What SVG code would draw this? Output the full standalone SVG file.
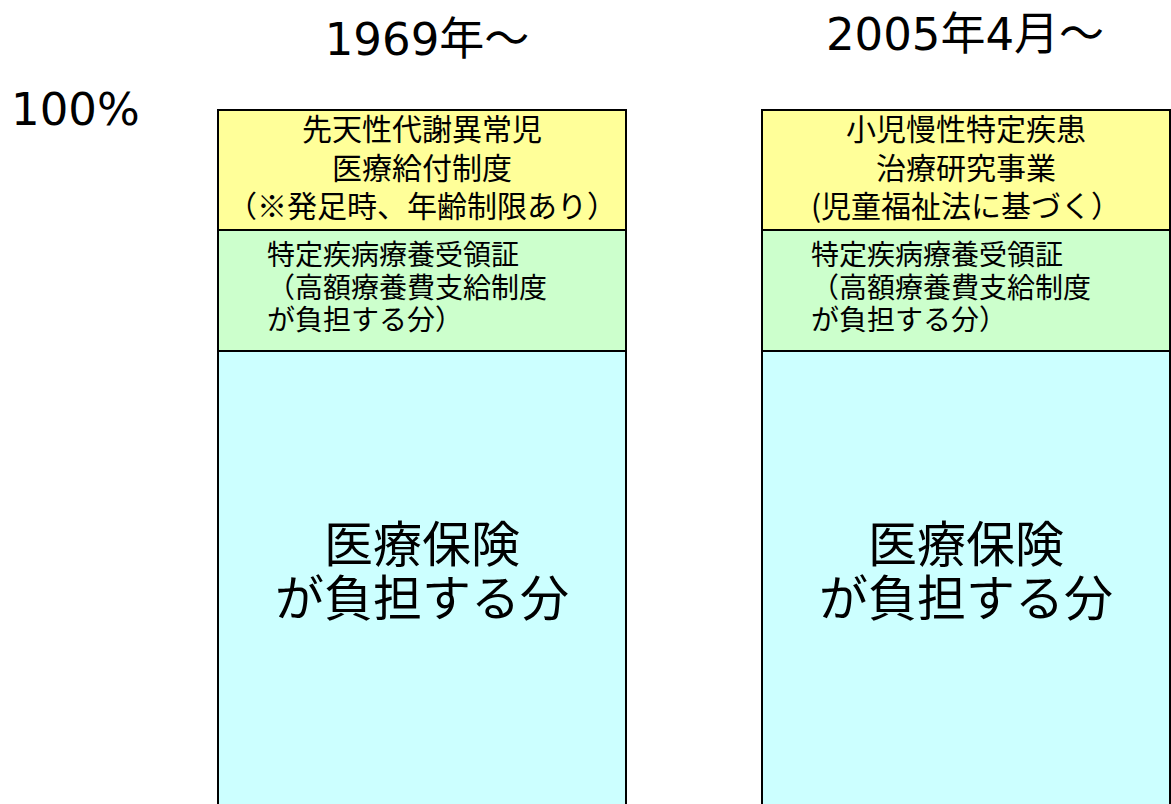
<svg xmlns="http://www.w3.org/2000/svg" width="1171" height="804" viewBox="0 0 1171 804">
<style>
text{font-family:"Noto Sans CJK JP","Noto Sans",sans-serif;fill:#000}
.y{fill:#FFFF99;stroke:#000;stroke-width:2}
.g{fill:#CCFFCC;stroke:#000;stroke-width:2}
.c{fill:#CCFFFF;stroke:#000;stroke-width:2}
.t{font-size:30px;text-anchor:middle}
.s{font-size:28px}
.b{font-size:49px;text-anchor:middle}
.h{font-family:"DejaVu Sans","Noto Sans CJK JP",sans-serif;font-size:45px}
</style>
<rect width="1171" height="804" fill="#fff"/>
<g id="labels">
<text class="h" x="427" y="55" text-anchor="middle">1969年～</text>
<text class="h" x="965" y="50" text-anchor="middle">2005年4月～</text>
<text class="h" x="11" y="125">100%</text>
</g>
<g id="col1">
<rect class="c" x="218" y="351" width="408" height="470"/>
<rect class="g" x="218" y="230" width="408" height="121"/>
<rect class="y" x="218" y="110" width="408" height="120"/>
<text class="t" x="422" y="140">先天性代謝異常児</text>
<text class="t" x="422" y="179">医療給付制度</text>
<text class="t" x="422" y="217">（※発足時、年齢制限あり）</text>
<text class="s" x="267" y="265">特定疾病療養受領証</text>
<text class="s" x="267" y="298">（高額療養費支給制度</text>
<text class="s" x="267" y="330">が負担する分）</text>
<text class="b" x="422" y="562">医療保険</text>
<text class="b" x="422" y="616">が負担する分</text>
</g>
<g id="col2">
<rect class="c" x="762" y="351" width="408" height="470"/>
<rect class="g" x="762" y="230" width="408" height="121"/>
<rect class="y" x="762" y="110" width="408" height="120"/>
<text class="t" x="966" y="140">小児慢性特定疾患</text>
<text class="t" x="966" y="179">治療研究事業</text>
<text class="t" x="966" y="217">(児童福祉法に基づく）</text>
<text class="s" x="811" y="265">特定疾病療養受領証</text>
<text class="s" x="811" y="298">（高額療養費支給制度</text>
<text class="s" x="811" y="330">が負担する分）</text>
<text class="b" x="966" y="562">医療保険</text>
<text class="b" x="966" y="616">が負担する分</text>
</g>
<g id="connectors"/>
</svg>
